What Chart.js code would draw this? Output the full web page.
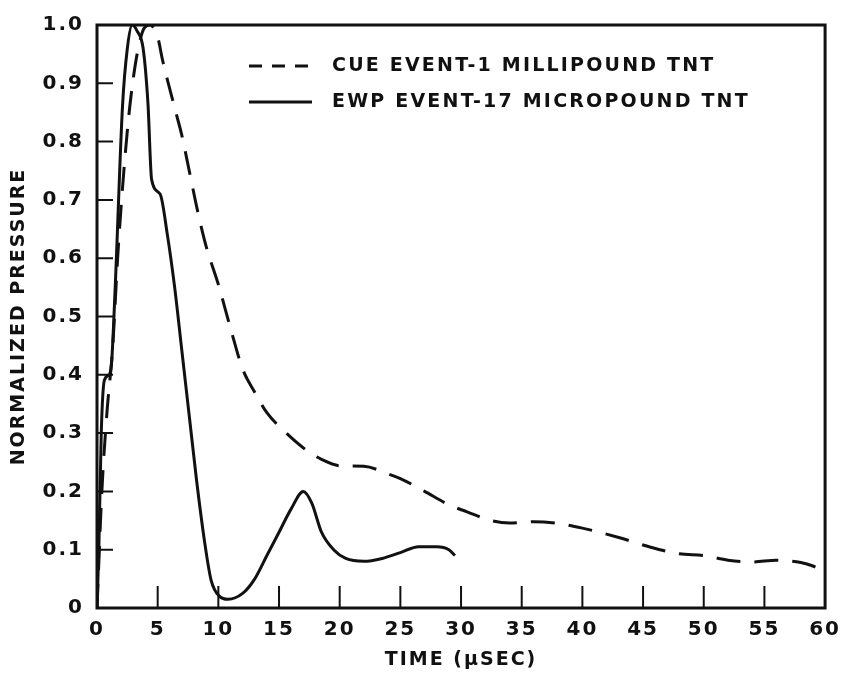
<!DOCTYPE html>
<html>
<head>
<meta charset="utf-8">
<script src="https://cdn.jsdelivr.net/npm/chart.js@4.4.1/dist/chart.umd.min.js"></script>
<style>
    html, body { margin: 0; padding: 0; background: #fff; }
</style>
</head>
<body>
<canvas id="pressureChart" width="849" height="673"></canvas>
<script>
// values, time in microseconds
const cueTime = [0, 0.4, 0.8, 1.3, 1.7, 2.1, 2.6, 3.0, 3.4, 3.9, 4.4, 4.8, 5.0, 5.4, 6.0, 6.5, 7.0, 7.6, 8.3, 9.0, 10.0, 11.0, 12.0, 13.0, 14.0, 15.6, 17.3, 18.5, 20.0, 22.0, 24.0, 25.0, 27.0, 29.0, 30.5, 32.5, 34.0, 36.0, 38.0, 40.0, 43.0, 45.5, 48.0, 50.0, 52.0, 54.0, 56.0, 58.0, 59.0, 60.0]
const cuePressure = [0, 0.2, 0.33, 0.45, 0.6, 0.72, 0.84, 0.91, 0.96, 0.995, 1.0, 0.99, 0.98, 0.94, 0.89, 0.85, 0.81, 0.75, 0.68, 0.62, 0.555, 0.48, 0.41, 0.37, 0.335, 0.3, 0.27, 0.255, 0.244, 0.243, 0.23, 0.222, 0.2, 0.177, 0.165, 0.15, 0.146, 0.148, 0.145, 0.137, 0.121, 0.105, 0.093, 0.09, 0.082, 0.079, 0.082, 0.078, 0.072, 0.062]

const ewpTime = [0, 0.15, 0.35, 0.6, 1.0, 1.2, 1.5, 2.1, 2.5, 2.9, 3.3, 3.8, 4.2, 4.5, 5.2, 5.8, 6.4, 7.0, 7.6, 8.2, 8.85, 9.4, 10.1, 10.8, 12.0, 13.0, 14.0, 15.0, 16.0, 17.0, 17.7, 18.5, 19.5, 20.5, 22.0, 23.5, 25.0, 26.5, 28.0, 29.0, 29.5]
const ewpPressure = [0, 0.1, 0.3, 0.39, 0.4, 0.42, 0.55, 0.86, 0.96, 1.0, 0.99, 0.96, 0.865, 0.735, 0.71, 0.64, 0.55, 0.44, 0.33, 0.22, 0.116, 0.048, 0.02, 0.015, 0.025, 0.05, 0.09, 0.13, 0.17, 0.2, 0.18, 0.13, 0.1, 0.085, 0.08, 0.085, 0.095, 0.105, 0.105, 0.1, 0.09]

const seriesLabels = ['CUE EVENT-1 MILLIPOUND TNT', 'EWP EVENT-17 MICROPOUND TNT']
const yTickLabels = ['0', '0.1', '0.2', '0.3', '0.4', '0.5', '0.6', '0.7', '0.8', '0.9', '1.0']
const xTitle = 'TIME (\u03bcSEC)'
const yTitle = 'NORMALIZED PRESSURE'

const ink = '#111'
const fontFamily = "'DejaVu Sans', sans-serif"

function toPoints(xs, ys) {
    return xs.map((x, i) => ({ x, y: ys[i] }))
}

// box around the plot, inward ticks and the legend inside the plot
const framePlugin = {
    id: 'frame',
    beforeDraw(chart) {
        chart.ctx.letterSpacing = '2px'
    },
    afterDatasetsDraw(chart) {
        const { ctx, chartArea: a, scales: { x, y } } = chart
        ctx.save()
        ctx.strokeStyle = ink
        ctx.lineWidth = 3
        ctx.strokeRect(a.left, a.top, a.right - a.left, a.bottom - a.top)

        ctx.lineWidth = 2
        ctx.beginPath()
        y.ticks.forEach(t => {
            if (t.value <= 0 || t.value >= 1) return
            const py = y.getPixelForValue(t.value)
            ctx.moveTo(a.left, py)
            ctx.lineTo(a.left + 16, py)
        })
        x.ticks.forEach(t => {
            if (t.value <= 0 || t.value >= 60) return
            const px = x.getPixelForValue(t.value)
            ctx.moveTo(px, a.bottom)
            ctx.lineTo(px, a.bottom - 22)
        })
        ctx.stroke()

        // legend
        ctx.font = 'bold 19px ' + fontFamily
        ctx.letterSpacing = '2.2px'
        ctx.fillStyle = ink
        ctx.textBaseline = 'middle'
        chart.data.datasets.forEach((ds, i) => {
            const rowY = 66 + i * 36
            ctx.lineWidth = 3
            ctx.setLineDash(ds.borderDash && ds.borderDash.length ? [13, 10] : [])
            ctx.beginPath()
            ctx.moveTo(249, rowY)
            ctx.lineTo(312, rowY)
            ctx.stroke()
            ctx.setLineDash([])
            ctx.fillText(ds.label, 332, rowY)
        })
        ctx.restore()
    }
}

const pressureChart = new Chart(document.getElementById('pressureChart'), {
    type: 'line',
    data: {
        datasets: [
            {
                label: seriesLabels[0],
                data: toPoints(cueTime, cuePressure),
                borderColor: ink,
                borderWidth: 3,
                borderDash: [24, 14],
                pointRadius: 0,
                cubicInterpolationMode: 'monotone'
            },
            {
                label: seriesLabels[1],
                data: toPoints(ewpTime, ewpPressure),
                borderColor: ink,
                borderWidth: 3,
                pointRadius: 0,
                cubicInterpolationMode: 'monotone'
            }
        ]
    },
    options: {
        responsive: false,
        animation: false,
        layout: { padding: { top: 21, right: 20, left: 0, bottom: 0 } },
        plugins: {
            legend: { display: false },
            tooltip: { enabled: false }
        },
        scales: {
            x: {
                type: 'linear',
                min: 0,
                max: 60,
                afterFit(scale) { scale.height = 65 },
                grid: { display: false, drawTicks: false },
                border: { display: false },
                ticks: {
                    stepSize: 5,
                    autoSkip: false,
                    maxRotation: 0,
                    padding: 10,
                    color: ink,
                    font: { family: fontFamily, weight: 'bold', size: 20 }
                },
                title: {
                    display: true,
                    text: xTitle,
                    color: ink,
                    padding: { top: 0, bottom: 2 },
                    font: { family: fontFamily, weight: 'bold', size: 19 }
                }
            },
            y: {
                min: 0,
                max: 1,
                afterFit(scale) { scale.width = 97 },
                grid: { display: false, drawTicks: false },
                border: { display: false },
                ticks: {
                    stepSize: 0.1,
                    padding: 13,
                    color: ink,
                    font: { family: fontFamily, weight: 'bold', size: 20 },
                    callback: (value, index) => yTickLabels[index]
                },
                title: {
                    display: true,
                    text: yTitle,
                    color: ink,
                    padding: { top: 8, bottom: 0 },
                    font: { family: fontFamily, weight: 'bold', size: 19 }
                }
            }
        }
    },
    plugins: [framePlugin]
})
</script>
</body>
</html>
